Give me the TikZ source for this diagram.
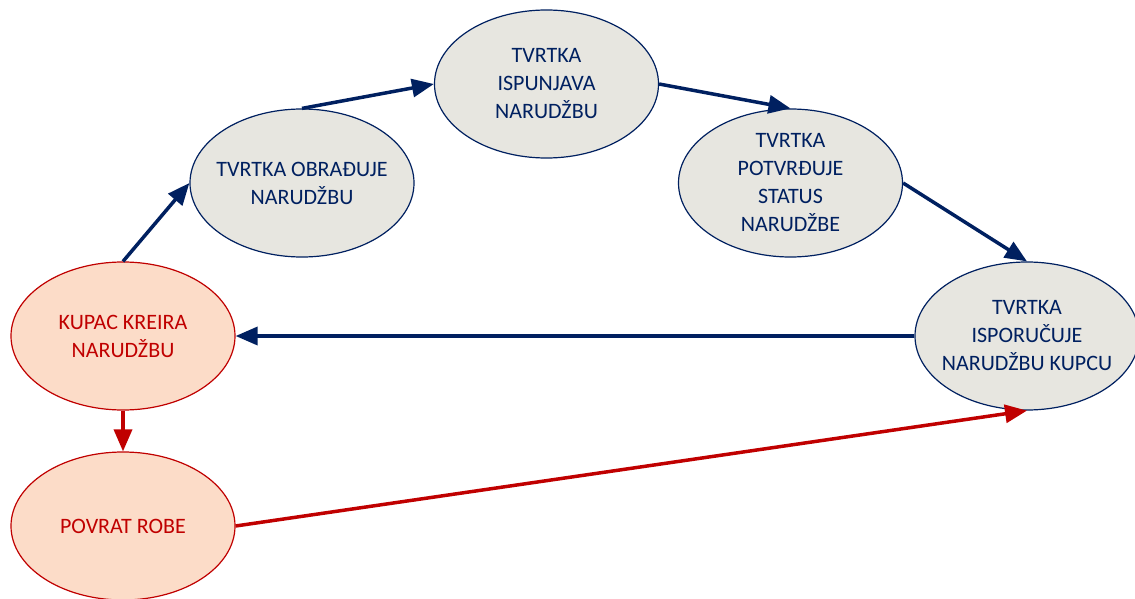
\documentclass[tikz,border=0pt]{standalone}
\usepackage{fontspec}
\setmainfont{Carlito}
\usetikzlibrary{arrows.meta,shapes.geometric}
\definecolor{navy}{HTML}{002060}
\definecolor{dred}{HTML}{C00000}
\definecolor{gfill}{HTML}{E7E6E0}
\definecolor{pfill}{HTML}{FCDCC8}
\begin{document}
\begin{tikzpicture}[x=1pt,y=-1pt,
  company/.style={ellipse, draw=navy, fill=gfill, line width=1.2pt,
    minimum width=224pt, minimum height=148pt, inner sep=-25pt,
    text=navy, align=center, font=\fontsize{22}{28}\selectfont},
  customer/.style={company, draw=dred, fill=pfill, text=dred},
  flow/.style={draw=navy, line width=3.5pt, -{Triangle[length=22pt,width=18pt]}},
  rflow/.style={flow, draw=dred}]
\useasboundingbox (0,0) rectangle (1135,599);
\node[customer] (kupac) at (123,336) {KUPAC KREIRA\\NARUDŽBU};
\node[customer] (povrat) at (123,526) {POVRAT ROBE};
\node[company] (obr) at (302,183) {TVRTKA OBRAĐUJE\\NARUDŽBU};
\node[company] (isp) at (546.5,84) {TVRTKA\\ISPUNJAVA\\NARUDŽBU};
\node[company] (pot) at (790.5,183) {TVRTKA\\POTVRĐUJE\\STATUS\\NARUDŽBE};
\node[company] (ispo) at (1027,336) {TVRTKA\\ISPORUČUJE\\NARUDŽBU KUPCU};
\draw[flow] (kupac.north) -- (obr.west);
\draw[flow] (obr.north) -- (isp.west);
\draw[flow] (isp.east) -- (pot.north);
\draw[flow] (pot.east) -- (ispo.north);
\draw[flow] (ispo.west) -- (kupac.east);
\draw[rflow] (kupac.south) -- (povrat.north);
\draw[rflow] (povrat.east) -- (ispo.south);
\end{tikzpicture}
\end{document}
